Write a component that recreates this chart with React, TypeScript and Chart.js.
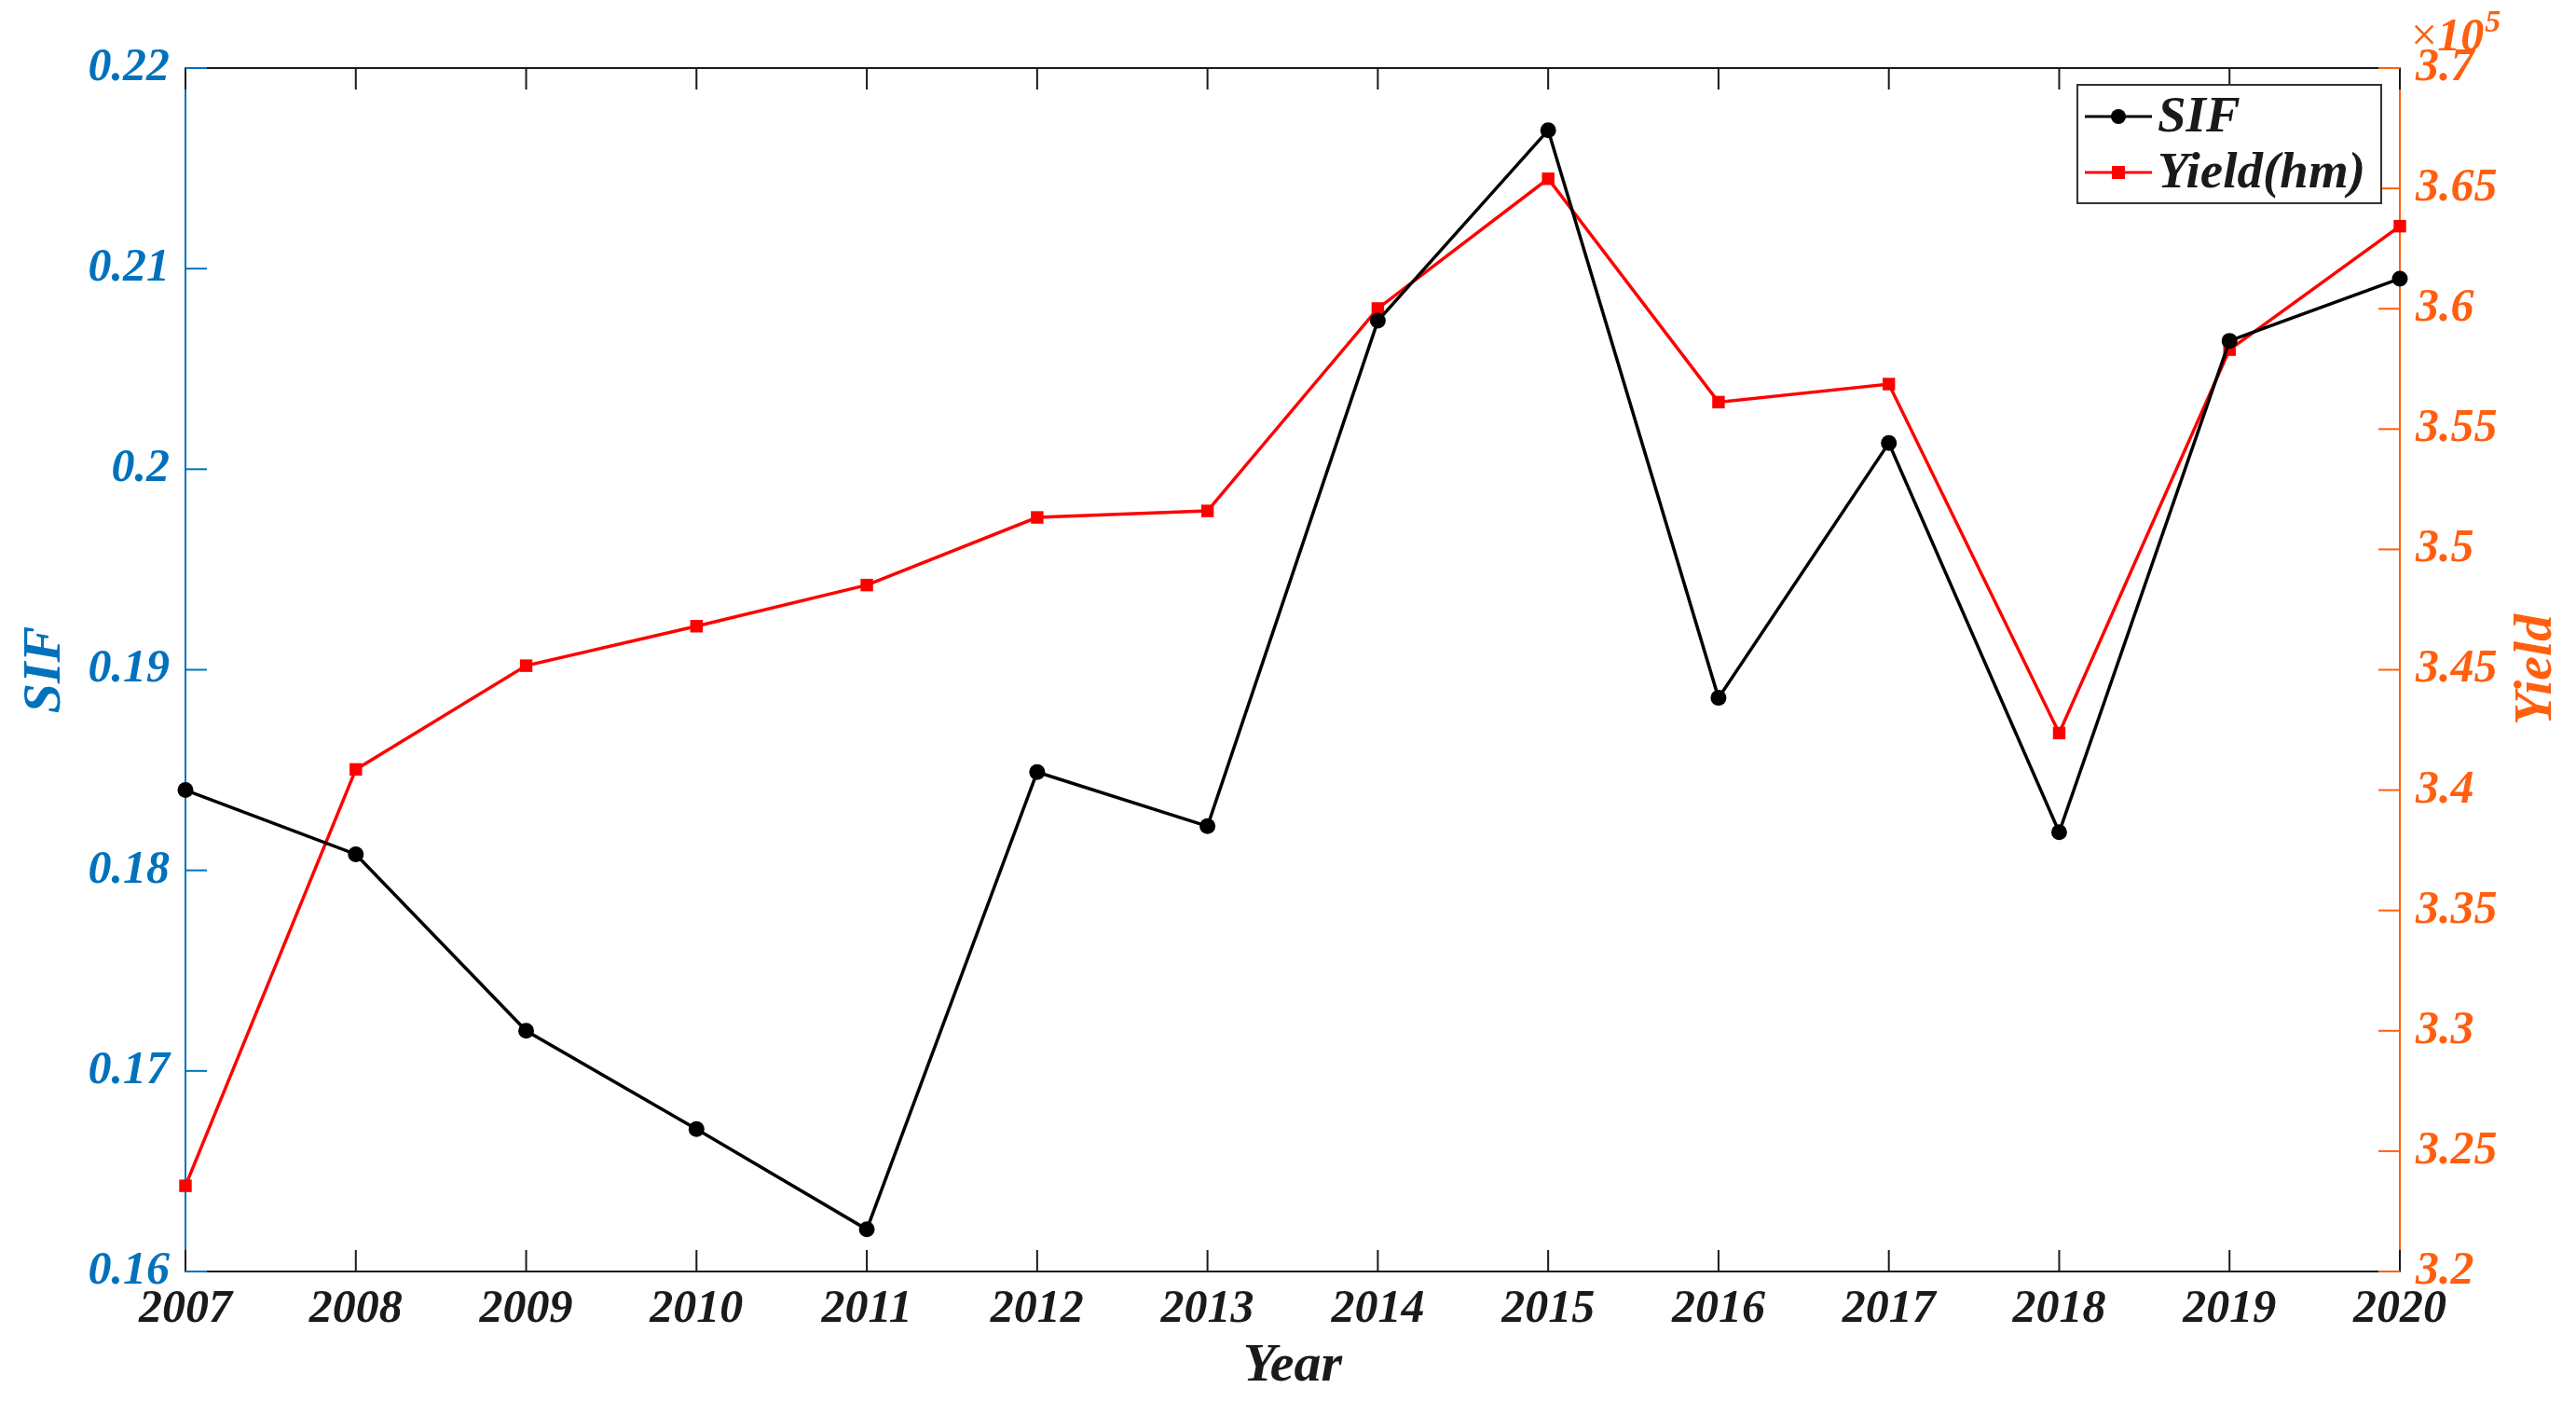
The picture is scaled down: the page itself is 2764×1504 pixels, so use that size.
import React, { useEffect, useRef } from 'react';
import { Chart, registerables } from 'chart.js';

Chart.register(...registerables);

const years = ['2007', '2008', '2009', '2010', '2011', '2012', '2013', '2014', '2015', '2016', '2017', '2018', '2019', '2020'];
const sifValues = [0.1840, 0.1808, 0.1720, 0.1671, 0.1621, 0.1849, 0.1822, 0.2074, 0.2169, 0.1886, 0.2013, 0.1819, 0.2064, 0.2095];
const yieldValues = [323560, 340860, 345170, 346810, 348520, 351330, 351600, 360010, 365400, 356120, 356870, 342370, 358300, 363430];

const sifRange = [0.16, 0.22];
const yieldRange = [320000, 370000];

const BLUE = '#0072BD';
const ORANGE = '#FF5F0F';
const INK = '#1a1a1a';
const FAMILY = '"Liberation Serif", "Times New Roman", serif';

const W = 2764;
const H = 1504;

const fmt = (v: number) => String(Number(v.toFixed(2)));

const decorPlugin = {
  id: 'decor',
  afterDraw(chart: any) {
    const { ctx, chartArea } = chart;
    const { left, right, top, bottom } = chartArea;
    const xs = chart.scales.x;
    const yl = chart.scales.ySIF;
    const yr = chart.scales.yYield;
    const TL = 23;
    ctx.save();
    // top border
    ctx.strokeStyle = INK;
    ctx.lineWidth = 2;
    ctx.beginPath();
    ctx.moveTo(left, top);
    ctx.lineTo(right, top);
    ctx.stroke();
    // x ticks inward (bottom and top)
    years.forEach((_, i) => {
      const px = xs.getPixelForTick(i);
      ctx.beginPath();
      ctx.moveTo(px, bottom);
      ctx.lineTo(px, bottom - TL);
      ctx.moveTo(px, top);
      ctx.lineTo(px, top + TL);
      ctx.stroke();
    });
    // left ticks
    ctx.strokeStyle = BLUE;
    yl.ticks.forEach((t: any) => {
      const py = yl.getPixelForValue(t.value);
      ctx.beginPath();
      ctx.moveTo(left, py);
      ctx.lineTo(left + TL, py);
      ctx.stroke();
    });
    // right ticks
    ctx.strokeStyle = ORANGE;
    yr.ticks.forEach((t: any) => {
      const py = yr.getPixelForValue(t.value);
      ctx.beginPath();
      ctx.moveTo(right, py);
      ctx.lineTo(right - TL, py);
      ctx.stroke();
    });

    // right axis title (reads bottom to top)
    ctx.save();
    ctx.translate(2722, (top + bottom) / 2);
    ctx.rotate(-Math.PI / 2);
    ctx.fillStyle = ORANGE;
    ctx.font = `italic bold 58px ${FAMILY}`;
    ctx.textAlign = 'center';
    ctx.textBaseline = 'middle';
    ctx.fillText('Yield', 0, 0);
    ctx.restore();

    // exponent label
    ctx.fillStyle = ORANGE;
    ctx.textBaseline = 'alphabetic';
    ctx.textAlign = 'left';
    ctx.font = `50px ${FAMILY}`;
    const xX = right + 12;
    ctx.fillText('\u00d7', xX, top - 19);
    const wX = ctx.measureText('\u00d7').width;
    ctx.font = `italic bold 50px ${FAMILY}`;
    ctx.fillText('10', xX + wX, top - 19);
    const w10 = ctx.measureText('10').width;
    ctx.font = `italic bold 34px ${FAMILY}`;
    ctx.fillText('5', xX + wX + w10 + 1, top - 39);

    // legend
    const bx = right - 346;
    const by = top + 18;
    const bw = 326;
    const bh = 127;
    ctx.fillStyle = '#ffffff';
    ctx.fillRect(bx, by, bw, bh);
    ctx.strokeStyle = '#333333';
    ctx.lineWidth = 2;
    ctx.strokeRect(bx, by, bw, bh);
    const rows = [
      { label: 'SIF', color: '#000000', y: by + 34, marker: 'circle' },
      { label: 'Yield(hm)', color: '#ff0000', y: by + 94, marker: 'rect' },
    ];
    rows.forEach((r) => {
      ctx.strokeStyle = r.color;
      ctx.fillStyle = r.color;
      ctx.lineWidth = 3;
      ctx.beginPath();
      ctx.moveTo(bx + 8, r.y);
      ctx.lineTo(bx + 80, r.y);
      ctx.stroke();
      if (r.marker === 'circle') {
        ctx.beginPath();
        ctx.arc(bx + 44, r.y, 8, 0, Math.PI * 2);
        ctx.fill();
      } else {
        ctx.fillRect(bx + 44 - 7, r.y - 7, 14, 14);
      }
      ctx.fillStyle = INK;
      ctx.font = `italic bold 55px ${FAMILY}`;
      ctx.textBaseline = 'middle';
      ctx.textAlign = 'left';
      ctx.fillText(r.label, bx + 86, r.y + 2);
    });
    ctx.restore();
  },
};

export default function App() {
  const ref = useRef<HTMLCanvasElement | null>(null);

  useEffect(() => {
    document.body.style.margin = '0';
    document.body.style.overflow = 'hidden';
    const canvas = ref.current;
    if (!canvas) return;
    const tickFont = { family: FAMILY, size: 50, style: 'italic' as const, weight: 'bold' as const };
    const titleFont = { family: FAMILY, size: 58, style: 'italic' as const, weight: 'bold' as const };
    const chart = new Chart(canvas, {
      type: 'line',
      data: {
        labels: years,
        datasets: [
          {
            label: 'SIF',
            data: sifValues,
            yAxisID: 'ySIF',
            borderColor: '#000000',
            backgroundColor: '#000000',
            borderWidth: 3.5,
            pointStyle: 'circle',
            pointRadius: 8.5,
            pointBorderWidth: 0,
            tension: 0,
            clip: false as any,
          },
          {
            label: 'Yield(hm)',
            data: yieldValues,
            yAxisID: 'yYield',
            borderColor: '#ff0000',
            backgroundColor: '#ff0000',
            borderWidth: 3.5,
            pointStyle: 'rect',
            pointRadius: 9.5,
            pointBorderWidth: 0,
            tension: 0,
            clip: false as any,
          },
        ],
      },
      options: {
        responsive: false,
        animation: false,
        devicePixelRatio: 1,
        layout: { padding: { top: 73, left: 0, right: 0, bottom: 0 } },
        plugins: { legend: { display: false }, tooltip: { enabled: false } },
        scales: {
          x: {
            type: 'category',
            offset: false,
            grid: { display: false, drawTicks: false },
            border: { display: true, color: INK, width: 2 },
            ticks: { color: INK, font: tickFont, padding: 11, maxRotation: 0, autoSkip: false },
            title: { display: true, text: 'Year', color: INK, font: titleFont, padding: { top: 0, bottom: 3 } },
            afterFit: (s: any) => { s.height = H - 1364; },
          },
          ySIF: {
            type: 'linear',
            position: 'left',
            min: sifRange[0],
            max: sifRange[1],
            grid: { display: false, drawTicks: false },
            border: { display: true, color: BLUE, width: 2 },
            ticks: { stepSize: 0.01, color: BLUE, font: tickFont, padding: 17, callback: (v: any) => fmt(Number(v)) },
            title: { display: true, text: 'SIF', color: BLUE, font: titleFont, padding: { top: 14, bottom: 0 } },
            afterFit: (s: any) => { s.width = 199; },
          },
          yYield: {
            type: 'linear',
            position: 'right',
            min: yieldRange[0],
            max: yieldRange[1],
            grid: { display: false, drawTicks: false },
            border: { display: true, color: ORANGE, width: 2 },
            ticks: { stepSize: 5000, color: ORANGE, font: tickFont, padding: 17, callback: (v: any) => fmt(Number(v) / 1e5) },
            title: { display: false, text: 'Yield' },
            afterFit: (s: any) => { s.width = W - 2575; },
          },
        },
      },
      plugins: [decorPlugin],
    });
    return () => chart.destroy();
  }, []);

  return (
    <div style={{ width: W, height: H, background: '#ffffff' }}>
      <canvas ref={ref} width={W} height={H} style={{ display: 'block' }} />
    </div>
  );
}
